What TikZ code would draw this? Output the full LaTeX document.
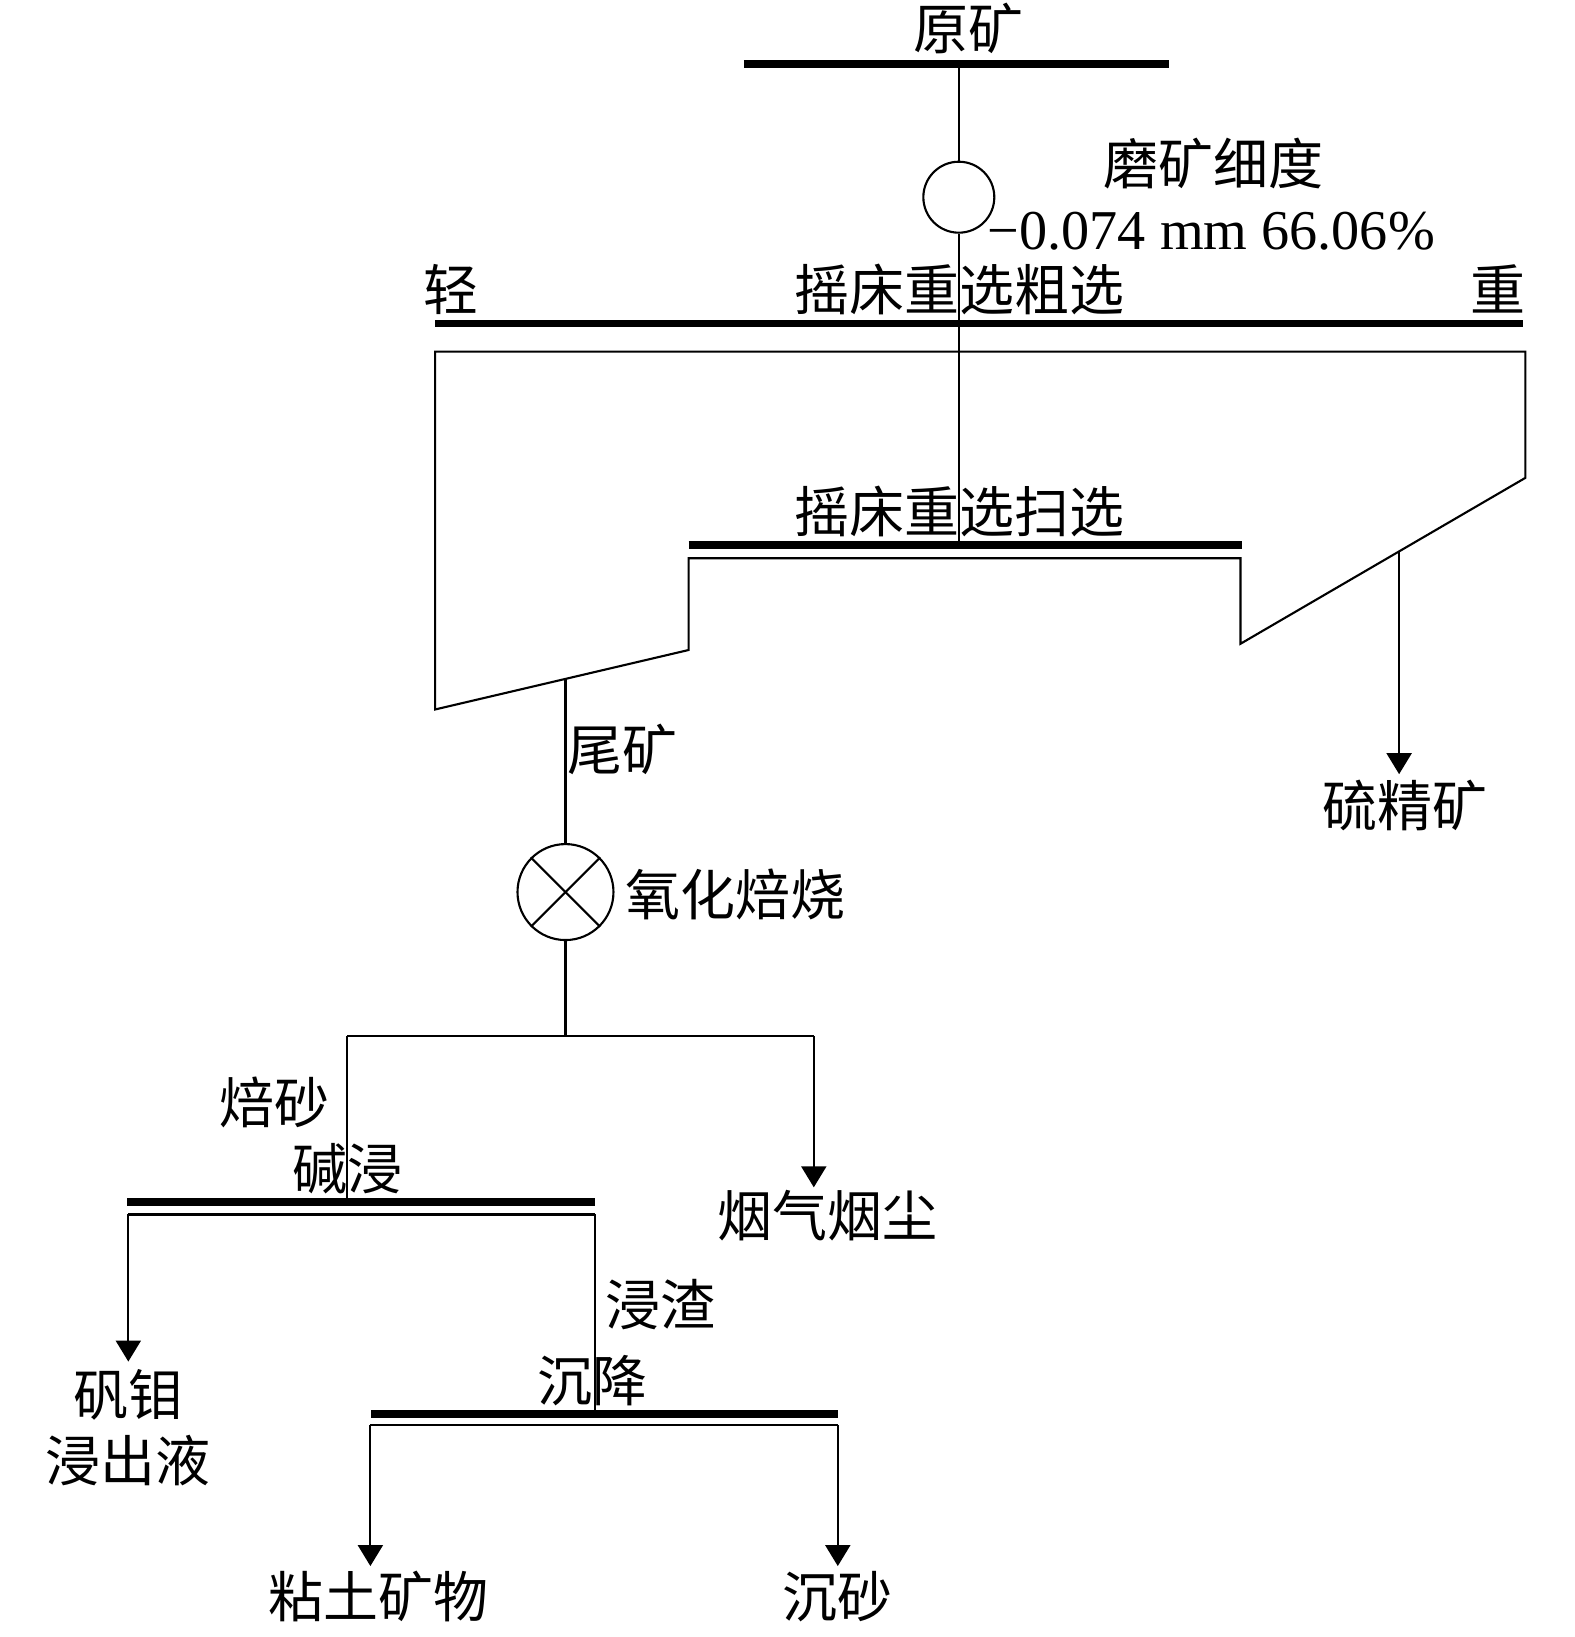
\documentclass[tikz,border=0pt]{standalone}
\usepackage{fontspec}
\setmainfont{Liberation Serif}
\newfontfamily\cjk{Noto Sans CJK SC}
\usetikzlibrary{arrows.meta}

\tikzset{
	bar/.style={line width=2.2pt},
	flow/.style={line width=0.6pt},
	outflow/.style={flow,-{Triangle[length=0.21cm,width=0.25cm]}},
	lab/.style={font=\cjk\fontsize{15.65}{18}\selectfont,inner sep=0pt},
}

\begin{document}
\begin{tikzpicture}[x=0.010435cm,y=-0.010435cm]
	\useasboundingbox (0,0) rectangle (1509,1569);

	% grinding
	\node[lab] (ore) at (928,27) {原矿};
	\draw[bar] (713,61) -- (1120,61);
	\coordinate (oreM) at (919,61);
	\node[draw,circle,flow,minimum size=0.71cm,inner sep=0pt] (mill) at (919,189) {};
	\draw[flow] (oreM) -- (mill.north);
	\node[lab] (grind) at (1163,157) {磨矿细度};
	\node[inner sep=0pt,font=\fontsize{16}{19}\selectfont] (fine) at (1161,222) {−0.074 mm 66.06\%};

	% shaking table, rougher and scavenger
	\node[lab] (light) at (432,277) {轻};
	\node[lab] (rough) at (920,277) {摇床重选粗选};
	\node[lab] (heavy) at (1436,277) {重};
	\draw[bar] (417,310) -- (1460,310);
	\node[lab] (scav) at (920,490) {摇床重选扫选};
	\draw[bar] (660,522) -- (1190,522);
	\coordinate (scavM) at (919,522);
	\draw[flow] (mill.south) -- (scavM);
	\draw[flow] (417,337) -- (417,680) -- (660,623) -- (660,535) -- (1189,535)
		-- (1189,617) -- (1462,458) -- (1462,337) -- cycle;

	% concentrate
	\coordinate (conc) at (1341,529);
	\coordinate (concT) at (1341,742);
	\draw[outflow] (conc) -- (concT);
	\node[lab] (sulf) at (1347,772) {硫精矿};

	% tailings and roasting
	\coordinate (tail) at (542,651);
	\node[lab] (tailL) at (597,718) {尾矿};
	\node[draw,circle,flow,minimum size=0.96cm,inner sep=0pt] (roast) at (542,855) {};
	\draw[flow] (roast.north west) -- (roast.south east);
	\draw[flow] (roast.north east) -- (roast.south west);
	\draw[flow] (tail) -- (roast.north);
	\node[lab] (roastL) at (705,857) {氧化焙烧};
	\coordinate (split) at (542,993);
	\coordinate (splitL) at (333,993);
	\coordinate (splitR) at (780,993);
	\draw[flow] (roast.south) -- (split);
	\draw[flow] (splitL) -- (splitR);
	\coordinate (smokeT) at (780,1138);
	\draw[outflow] (splitR) -- (smokeT);
	\node[lab] (smoke) at (793,1165) {烟气烟尘};

	% alkaline leaching
	\node[lab] (calc) at (263,1057) {焙砂};
	\node[lab] (leach) at (333,1120) {碱浸};
	\coordinate (leachM) at (333,1152);
	\draw[flow] (splitL) -- (leachM);
	\draw[bar] (122,1152) -- (570,1152);
	\coordinate (leachL) at (123,1164);
	\coordinate (leachR) at (570,1164);
	\draw[flow] (leachL) -- (leachR);
	\coordinate (liqT) at (123,1305);
	\draw[outflow] (leachL) -- (liqT);
	\node[lab] (liq1) at (123,1337) {矾钼};
	\node[lab] (liq2) at (123,1400) {浸出液};
	\node[lab] (res) at (633,1250) {浸渣};

	% settling
	\node[lab] (settle) at (568,1323) {沉降};
	\coordinate (settleM) at (570,1355);
	\draw[flow] (leachR) -- (settleM);
	\draw[bar] (356,1355) -- (803,1355);
	\coordinate (settleL) at (355,1366);
	\coordinate (settleR) at (803,1366);
	\draw[flow] (settleL) -- (settleR);
	\foreach \x/\n in {355/clayT,803/sandT} {
		\coordinate (\n) at (\x,1501);
	}
	\draw[outflow] (settleL) -- (clayT);
	\draw[outflow] (settleR) -- (sandT);
	\node[lab] (clay) at (363,1530) {粘土矿物};
	\node[lab] (sand) at (803,1530) {沉砂};
\end{tikzpicture}
\end{document}
